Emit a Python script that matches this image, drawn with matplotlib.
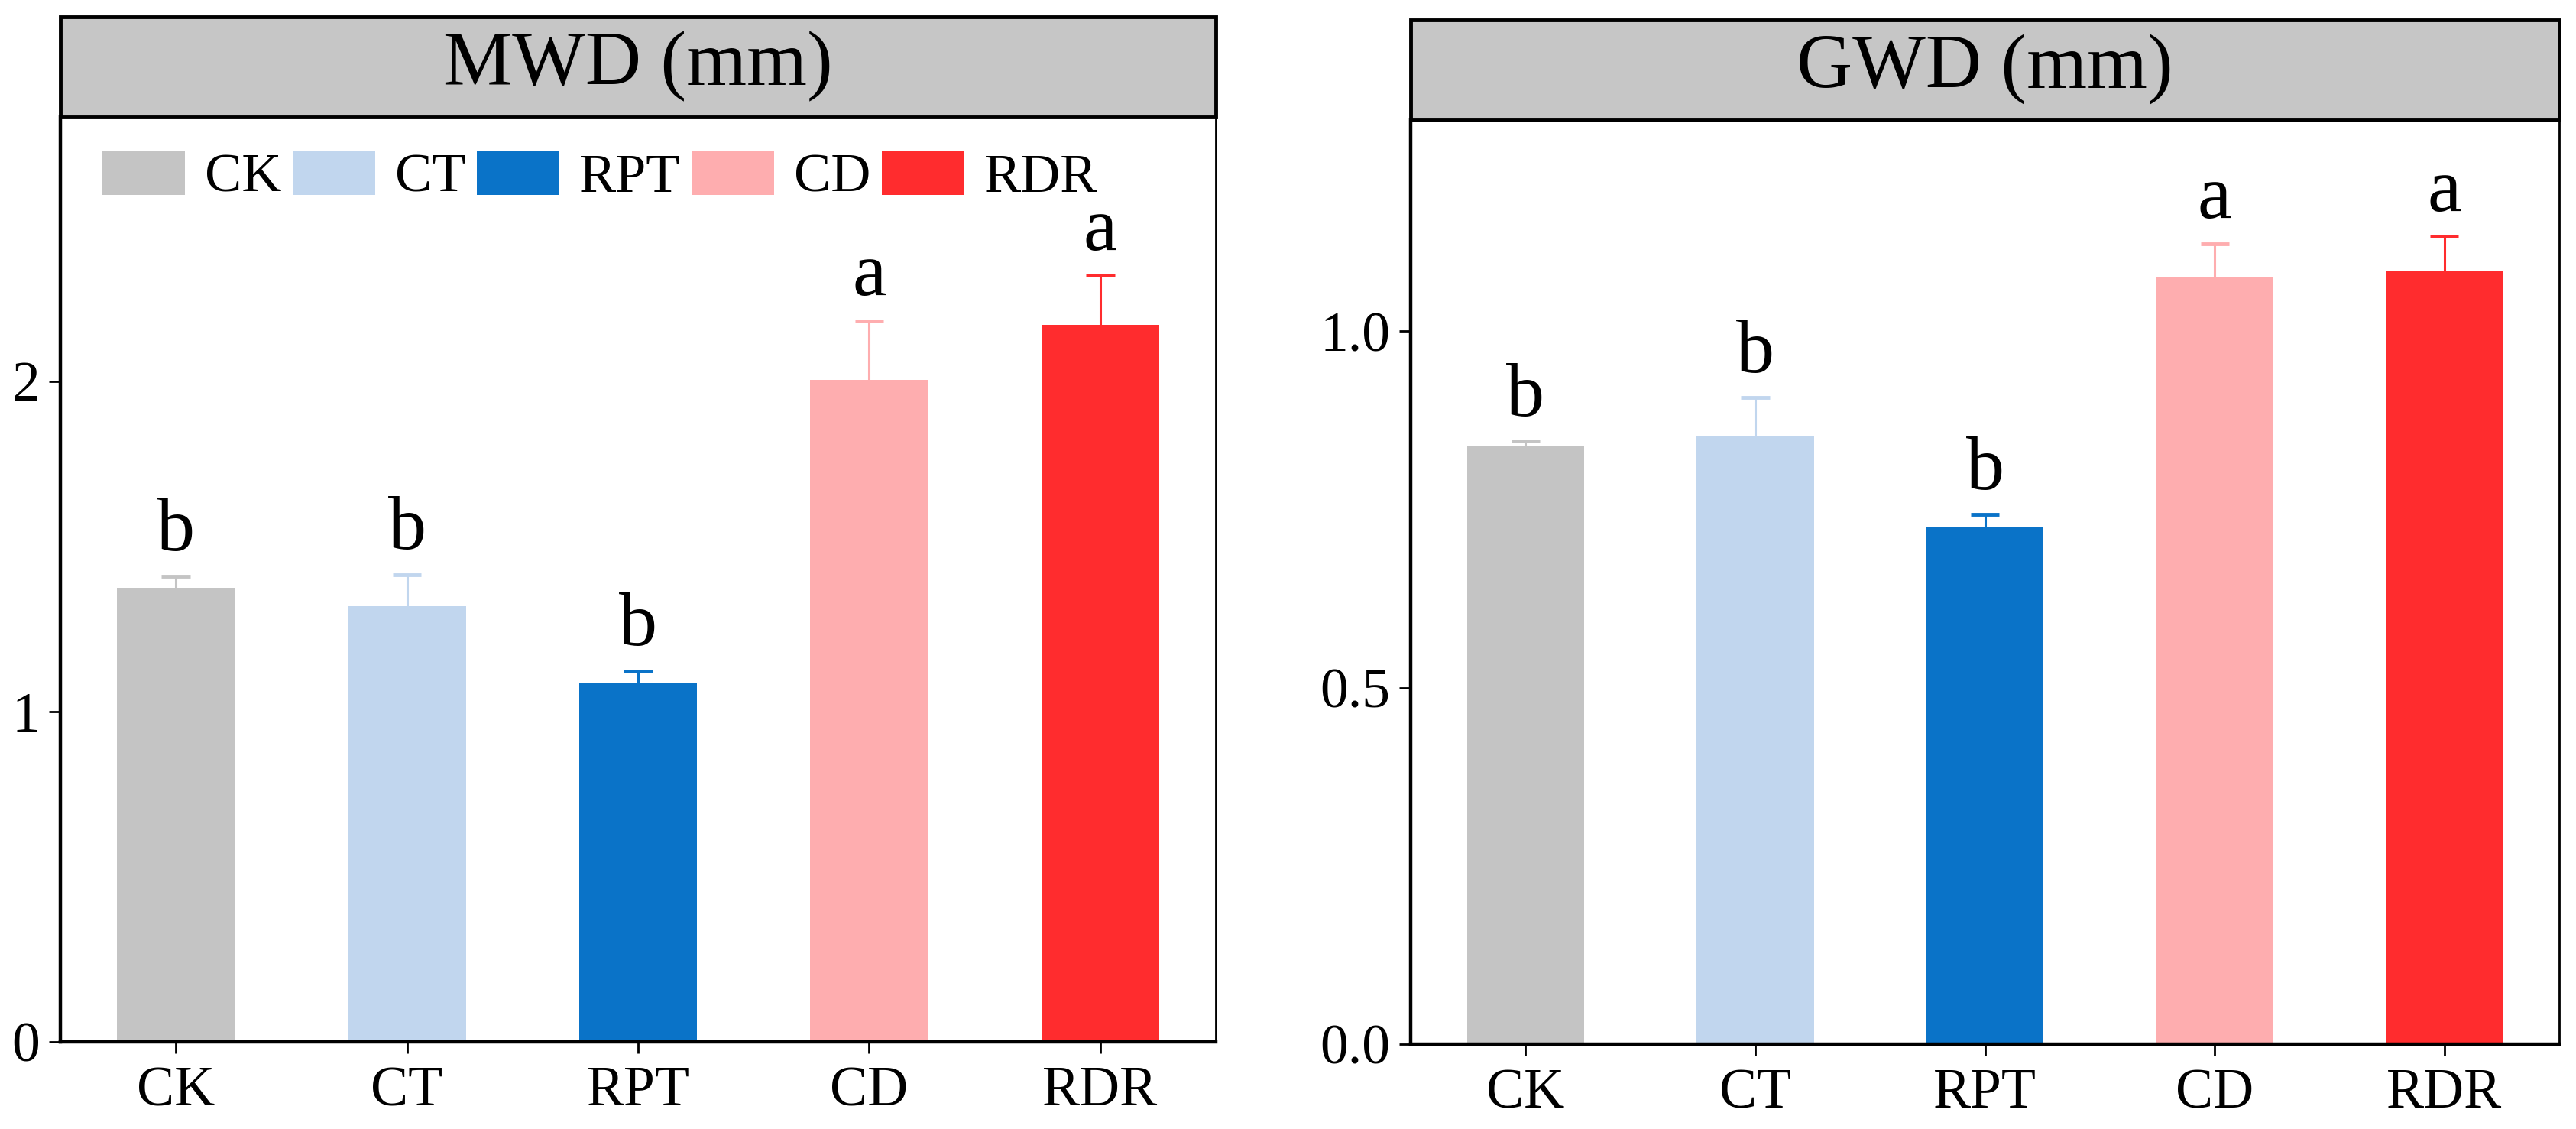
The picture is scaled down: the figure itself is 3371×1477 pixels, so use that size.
import matplotlib
matplotlib.use('Agg')
import matplotlib.pyplot as plt
from matplotlib.patches import Rectangle, Patch
import numpy as np

plt.rcParams['font.family'] = ['Liberation Serif', 'DejaVu Serif']

treatments = ['CK', 'CT', 'RPT', 'CD', 'RDR']
colors = ['#C4C4C4', '#C1D6EE', '#0A73C8', '#FEADAF', '#FF2C2E']

# MWD panel
mwd_mean = [1.375, 1.32, 1.088, 2.005, 2.17]
mwd_err = [0.035, 0.095, 0.035, 0.178, 0.15]
mwd_letters = ['b', 'b', 'b', 'a', 'a']

# GWD panel
gwd_mean = [0.840, 0.852, 0.726, 1.076, 1.085]
gwd_err = [0.006, 0.055, 0.017, 0.047, 0.048]
gwd_letters = ['b', 'b', 'b', 'a', 'a']

fig = plt.figure(figsize=(33.71, 14.77), dpi=100)
ax1 = fig.add_axes([0.0234, 0.0772, 0.4486, 0.8192])
ax2 = fig.add_axes([0.5476, 0.0752, 0.4459, 0.8188])


def draw_panel(ax, means, errs, letters, title, ymax, yticks, yticklabels):
    x = np.arange(len(treatments))
    ax.bar(x, means, width=0.51, color=colors, zorder=2)
    # only the upper half of the error bar is shown
    tops = np.array(means) + np.array(errs)
    ax.vlines(x, means, tops, colors=colors, linewidth=2.2, zorder=1)
    ax.hlines(tops, x - 0.062, x + 0.062, colors=colors, linewidth=3.5, zorder=1)
    for i in range(len(x)):
        ax.annotate(letters[i], xy=(x[i], tops[i]), xytext=(0, 24),
                    textcoords='offset points', ha='center', va='baseline', fontsize=72)
    ax.set_xlim(-0.5, 4.5)
    ax.set_ylim(0, ymax)
    ax.set_xticks(x)
    ax.set_xticklabels(treatments, fontsize=53)
    ax.set_yticks(yticks)
    ax.set_yticklabels(yticklabels, fontsize=53)
    ax.tick_params(axis='both', direction='out', length=11, width=2, color='black')
    ax.tick_params(axis='x', pad=12)
    ax.tick_params(axis='y', pad=8)
    for s in ['left', 'bottom']:
        ax.spines[s].set_linewidth(3.2)
    for s in ['right', 'top']:
        ax.spines[s].set_linewidth(2)
    # grey strip with the title, like a facet label
    strip_h = 131 / 1210
    ax.add_patch(Rectangle((0, 1), 1, strip_h, transform=ax.transAxes, clip_on=False,
                           facecolor='#C6C6C6', edgecolor='black', linewidth=3.5))
    ax.text(0.5, 1 + strip_h / 2, title, transform=ax.transAxes, ha='center',
            va='center', fontsize=73)


draw_panel(ax1, mwd_mean, mwd_err, mwd_letters, 'MWD (mm)', 2.8, [0, 1, 2], ['0', '1', '2'])
draw_panel(ax2, gwd_mean, gwd_err, gwd_letters, 'GWD (mm)', 1.297, [0, 0.5, 1.0], ['0.0', '0.5', '1.0'])

handles = [Patch(facecolor=c, edgecolor='none') for c in colors]
ax1.legend(handles, treatments, loc='upper left', bbox_to_anchor=(0.036, 0.964),
           ncol=5, frameon=False, fontsize=52, handlelength=1.5, handleheight=0.86,
           handletextpad=0.36, columnspacing=0.2, borderpad=0, borderaxespad=0)

fig.savefig('out.png', dpi=100)
